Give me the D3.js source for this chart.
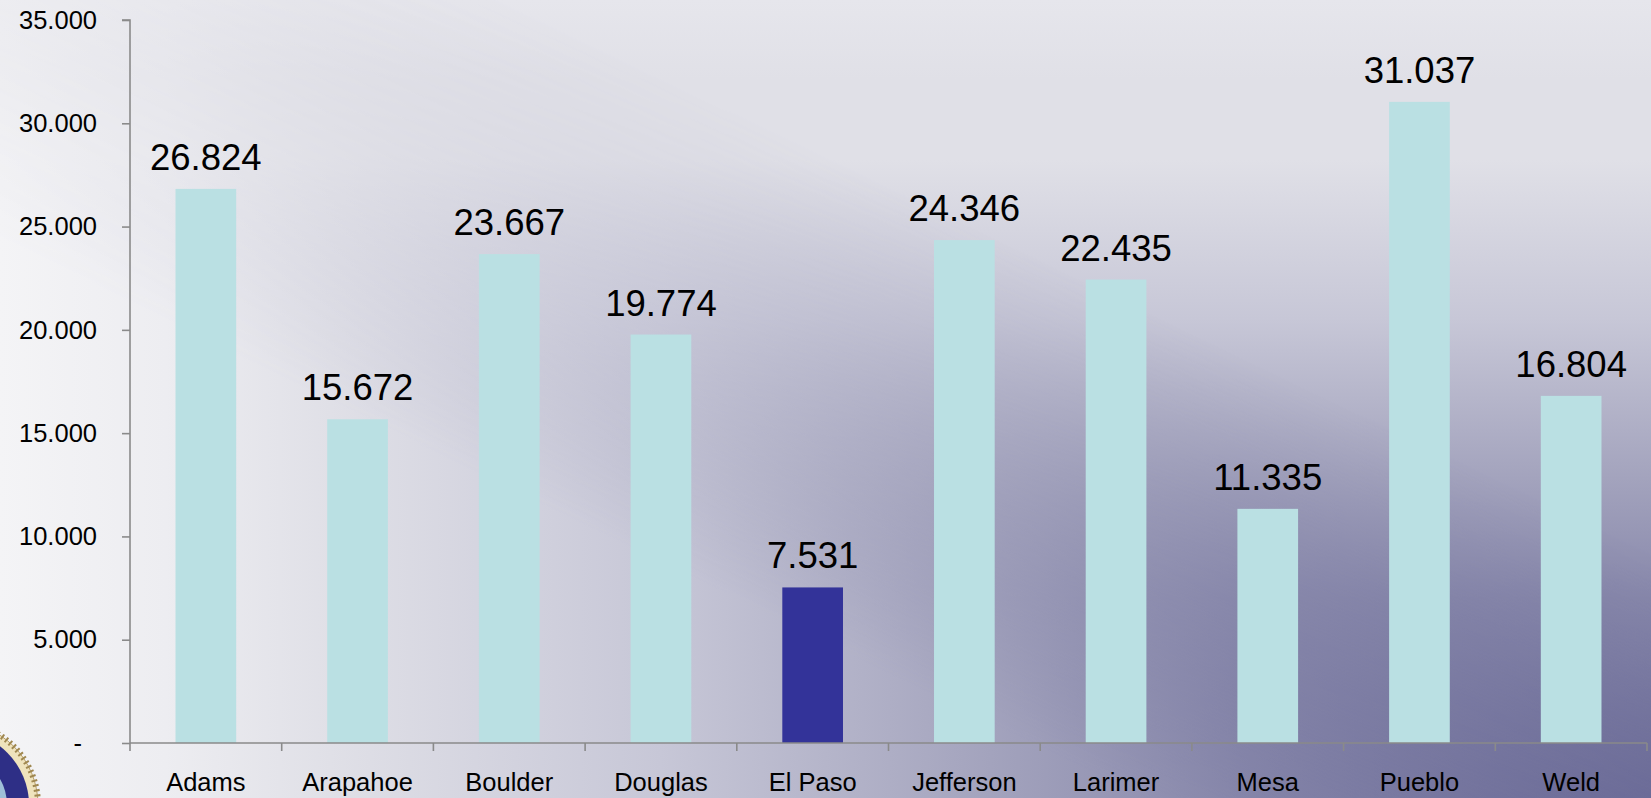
<!DOCTYPE html>
<html>
<head>
<meta charset="utf-8">
<script src="https://cdn.jsdelivr.net/npm/d3@7"></script>
<style>
  html, body { margin: 0; padding: 0; overflow: hidden; }
  svg { display: block; }
  text { font-family: "Liberation Sans", Arial, sans-serif; fill: #000; }
</style>
</head>
<body>
<svg id="chart" width="1651" height="798"></svg>
<script>
const categories = ["Adams", "Arapahoe", "Boulder", "Douglas", "El Paso", "Jefferson", "Larimer", "Mesa", "Pueblo", "Weld"];
const values = [26824, 15672, 23667, 19774, 7531, 24346, 22435, 11335, 31037, 16804];
const highlight = ["El Paso"];
const yTicks = [0, 5000, 10000, 15000, 20000, 25000, 30000, 35000];

const W = 1651, H = 798;
const svg = d3.select("#chart");

// background: rectangular gradient from bottom-right corner, softly blended
const defs = svg.append("defs");
const common = [[0, "#6c6c98"], [0.25, "#8888ab"], [0.4, "#a3a3bd"], [0.6, "#c7c7d7"], [0.8, "#e0e0e7"]];
const hg = defs.append("linearGradient").attr("id", "bgH").attr("gradientUnits", "userSpaceOnUse")
  .attr("x1", W).attr("y1", 0).attr("x2", 0).attr("y2", 0);
common.concat([[0.9, "#ededf1"], [1, "#f4f4f6"]])
  .forEach(([o, c]) => hg.append("stop").attr("offset", o).attr("stop-color", c));
const vg = defs.append("linearGradient").attr("id", "bgV").attr("gradientUnits", "userSpaceOnUse")
  .attr("x1", 0).attr("y1", H).attr("x2", 0).attr("y2", 0);
common.concat([[0.9, "#e0e0e7"], [1, "#e6e6ec"]])
  .forEach(([o, c]) => vg.append("stop").attr("offset", o).attr("stop-color", c));
const len = Math.hypot(W, H);
const nx = -H / len, ny = W / len;
const cx = W / 2, cy = H / 2, s = 220;
const mg = defs.append("linearGradient").attr("id", "mg").attr("gradientUnits", "userSpaceOnUse")
  .attr("x1", cx - nx * s).attr("y1", cy - ny * s).attr("x2", cx + nx * s).attr("y2", cy + ny * s);
mg.append("stop").attr("offset", 0).attr("stop-color", "#000");
mg.append("stop").attr("offset", 1).attr("stop-color", "#fff");
defs.append("mask").attr("id", "diag").attr("maskUnits", "userSpaceOnUse")
  .attr("x", 0).attr("y", 0).attr("width", W).attr("height", H)
  .append("rect").attr("width", W).attr("height", H).attr("fill", "url(#mg)");
svg.append("rect").attr("width", W).attr("height", H).attr("fill", "url(#bgV)");
svg.append("rect").attr("width", W).attr("height", H).attr("fill", "url(#bgH)").attr("mask", "url(#diag)");

// seal (partial logo at bottom-left)
const seal = svg.append("g").attr("transform", "translate(-45,805)");
seal.append("circle").attr("r", 83).attr("fill", "#efe3bd").attr("stroke", "#b8a06a").attr("stroke-width", 1);
seal.append("circle").attr("r", 83).attr("fill", "none").attr("stroke", "#a08850")
  .attr("stroke-width", 6).attr("stroke-dasharray", "2 3");
seal.append("circle").attr("r", 74).attr("fill", "#2e2f86");
seal.append("circle").attr("r", 52).attr("fill", "#9fc0d8");

const x = d3.scaleBand().domain(categories).range([130, 1647]).padding(0);
const y = d3.scaleLinear().domain([0, 35000]).range([743, 20]);

const fmt = v => v === 0 ? "-" : d3.format(",")(v).replace(/,/g, ".");

// bars
const barW = x.bandwidth() * 0.4;
svg.append("g").selectAll("rect").data(values).join("rect")
  .attr("x", (d, i) => x(categories[i]) + (x.bandwidth() - barW) / 2)
  .attr("y", d => y(d))
  .attr("width", barW)
  .attr("height", d => y(0) - y(d))
  .attr("fill", (d, i) => highlight.includes(categories[i]) ? "#333399" : "#bae0e3");

// data labels
svg.append("g").selectAll("text").data(values).join("text")
  .attr("x", (d, i) => x(categories[i]) + x.bandwidth() / 2)
  .attr("y", d => y(d) - 19)
  .attr("text-anchor", "middle")
  .style("font-size", "36.5px")
  .text(d => fmt(d));

// y axis
const yAxis = svg.append("g").attr("transform", "translate(130,0)")
  .call(d3.axisLeft(y).tickValues(yTicks).tickSize(8).tickPadding(25).tickFormat(fmt));
yAxis.selectAll("text").style("font-size", "25.5px").attr("fill", "#000")
  .attr("dx", d => d === 0 ? "-15" : null);
yAxis.selectAll("line, path").attr("stroke", "#8a8a8a").attr("stroke-width", 1.6);
yAxis.select("path").attr("d", `M-8,${y(35000)}H0V${y(0)}`);

// x axis
const xAxis = svg.append("g").attr("transform", `translate(0,${y(0)})`)
  .call(d3.axisBottom(x).tickSize(0).tickPadding(30).tickFormat(d => d));
xAxis.selectAll("text").style("font-size", "25.5px").attr("fill", "#000");
xAxis.select("path").attr("stroke", "#8a8a8a").attr("stroke-width", 1.6).attr("d", `M130,0H1647`);
const bounds = categories.map(c => x(c)).concat([x.range()[1]]);
xAxis.append("g").selectAll("line").data(bounds).join("line")
  .attr("x1", d => d).attr("x2", d => d).attr("y1", 0).attr("y2", 8)
  .attr("stroke", "#8a8a8a").attr("stroke-width", 1.6);
</script>
</body>
</html>
